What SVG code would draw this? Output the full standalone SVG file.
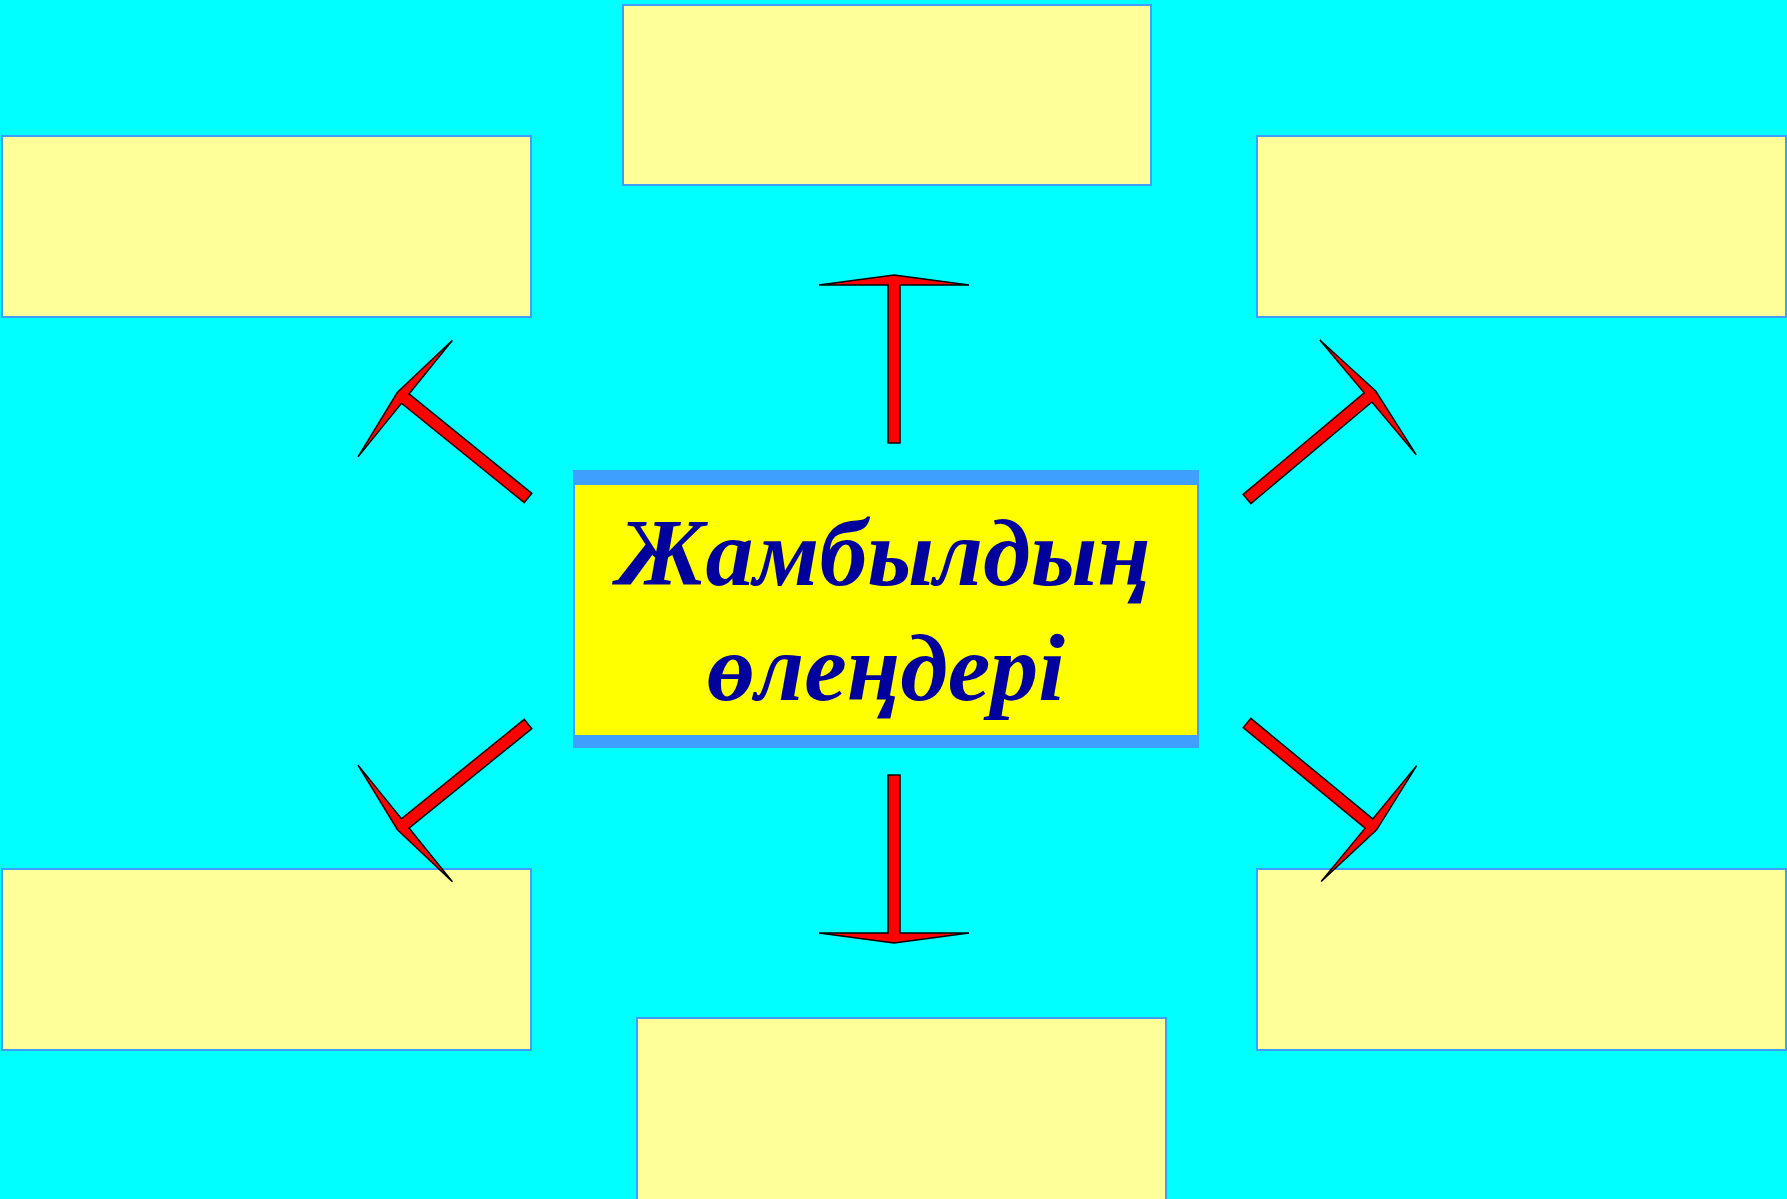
<svg xmlns="http://www.w3.org/2000/svg" xmlns:xlink="http://www.w3.org/1999/xlink" width="1787" height="1199" viewBox="0 0 1787 1199">
  <style>
    .box { fill: #FFFF99; stroke: #3F9FFF; stroke-width: 2; }
    .arrow { fill: #FF0000; stroke: #000000; stroke-width: 1.5; }
    .title { font-family: "Liberation Serif", "Times New Roman", serif; font-weight: bold; font-style: italic; font-size: 96px; fill: #00009C; text-anchor: middle; }
  </style>
  <defs>
    <path id="arrow" class="arrow" d="M -6 0 L -6 -158 L -75 -158 L 0 -168 L 75 -158 L 6 -158 L 6 0 Z"/>
  </defs>
  <rect x="0" y="0" width="1787" height="1199" fill="#00FFFF"/>

  <g id="box-top"><rect class="box" x="623" y="5" width="528" height="180"/></g>
  <g id="box-top-left"><rect class="box" x="2" y="136" width="529" height="181"/></g>
  <g id="box-top-right"><rect class="box" x="1257" y="136" width="529" height="181"/></g>
  <g id="box-bottom-left"><rect class="box" x="2" y="869" width="529" height="181"/></g>
  <g id="box-bottom-right"><rect class="box" x="1257" y="869" width="529" height="181"/></g>
  <g id="box-bottom"><rect class="box" x="637" y="1018" width="529" height="182"/></g>

  <g id="center">
    <rect x="573" y="470" width="626" height="278" fill="#3F9FFF"/>
    <rect x="575" y="485" width="622" height="250" fill="#FFFF00"/>
    <text class="title" x="884" y="585">Жамбылдың</text>
    <text class="title" x="886" y="700">өлеңдері</text>
  </g>

  <g id="connectors">
    <use xlink:href="#arrow" transform="translate(894,443)"/>
    <use xlink:href="#arrow" transform="translate(894,775) rotate(180)"/>
    <use xlink:href="#arrow" transform="translate(528,498) rotate(-51)"/>
    <use xlink:href="#arrow" transform="translate(1247,499) rotate(50)"/>
    <use xlink:href="#arrow" transform="translate(528,724) rotate(-129)"/>
    <use xlink:href="#arrow" transform="translate(1247,723) rotate(129.5)"/>
  </g>
</svg>
